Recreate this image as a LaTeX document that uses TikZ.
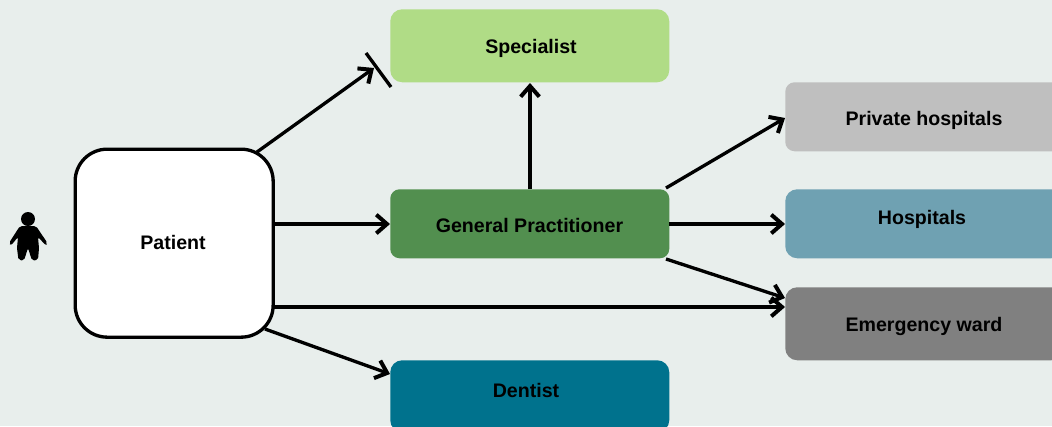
\documentclass[tikz,border=0pt]{standalone}
\usepackage{fontspec}
\setmainfont{Liberation Sans}
\usetikzlibrary{arrows.meta}
\definecolor{bgc}{HTML}{E8EEEC}
\definecolor{specc}{HTML}{B0DC86}
\definecolor{gpc}{HTML}{528F4F}
\definecolor{dentc}{HTML}{00728D}
\definecolor{privc}{HTML}{BFBFBF}
\definecolor{hospc}{HTML}{6FA1B2}
\definecolor{emerc}{HTML}{808080}
\tikzset{
  px/.style={x=0.75pt,y=-0.75pt},
  boxnode/.style={draw=none,rounded corners=9pt,inner sep=0pt,anchor=north west},
  txt/.style={font=\bfseries\fontsize{14.7}{17}\selectfont,text=black,inner sep=0pt},
  conn/.style={line width=2.5pt,-{Straight Barb[length=8pt,width=14pt,line width=3pt]}},
  plain/.style={line width=2.5pt}
}
\begin{document}
\begin{tikzpicture}[px]
\useasboundingbox (0,0) rectangle (1052,426);
\clip (0,0) rectangle (1052,426);
\fill[bgc] (0,0) rectangle (1052,426);
% boxes
\node[boxnode,fill=specc,minimum width=209.25pt,minimum height=54.75pt] (spec) at (390,9) {};
\node[boxnode,fill=gpc,minimum width=209.25pt,minimum height=51.75pt,rounded corners=7pt] (gp) at (390,189) {};
\node[boxnode,fill=dentc,minimum width=209.25pt,minimum height=54pt] (dent) at (390,360) {};
\node[boxnode,fill=privc,minimum width=208.5pt,minimum height=51.75pt,rounded corners=7pt] (priv) at (785,82) {};
\node[boxnode,fill=hospc,minimum width=208.5pt,minimum height=51.75pt] (hosp) at (785,189) {};
\node[boxnode,fill=emerc,minimum width=208.5pt,minimum height=54.75pt] (emer) at (785,287) {};
\node[boxnode,draw=black,line width=2.5pt,fill=white,rounded corners=24pt,minimum width=148.5pt,minimum height=141pt] (pat) at (73.5,147.5) {};
% labels
\node[txt] (tspec) at (531,48) {Specialist};
\node[txt] (tgp) at (529.5,225) {General Practitioner};
\node[txt] (tdent) at (526,390) {Dentist};
\node[txt] (tpriv) at (924,120.5) {Private hospitals};
\node[txt] (thosp) at (922,219) {Hospitals};
\node[txt] (temer) at (924,326.5) {Emergency ward};
\node[txt] (tpat) at (173,242) {Patient};
% connector end points
\coordinate (a1) at (257,152);
\coordinate (a2) at (374,68);
\coordinate (b1) at (366,53);
\coordinate (b2) at (391,87);
\coordinate (c1) at (273,224);
\coordinate (c2) at (390,224);
\coordinate (d1) at (273,307);
\coordinate (d2) at (785,307);
\coordinate (e1) at (265,329);
\coordinate (e2) at (390,374);
\coordinate (f1) at (530,189);
\coordinate (f2) at (530,83);
\coordinate (g1) at (666,188);
\coordinate (g2) at (785,118);
\coordinate (h1) at (669,224);
\coordinate (h2) at (785,224);
\coordinate (i1) at (666,259);
\coordinate (i2) at (785,298);
% connectors
\draw[conn] (a1) -- (a2);
\draw[plain] (b1) -- (b2);
\draw[conn] (c1) -- (c2);
\draw[conn] (d1) -- (d2);
\draw[conn] (e1) -- (e2);
\draw[conn] (f1) -- (f2);
\draw[conn] (g1) -- (g2);
\draw[conn] (h1) -- (h2);
\draw[conn] (i1) -- (i2);
% person icon
\fill[black] (28,219) circle (7);
\fill[black,rounded corners=1.5pt] (20,226) -- (36,226) -- (38,229) -- (47.5,243) -- (46,245.5) -- (38,237)
  -- (39,248) -- (38,260) -- (32,260.5) -- (28,248) -- (24,260.5) -- (18.5,260) -- (17,248) -- (18,237) -- (11,245.5) -- (9,243) -- (18,229) -- cycle;
\end{tikzpicture}
\end{document}
